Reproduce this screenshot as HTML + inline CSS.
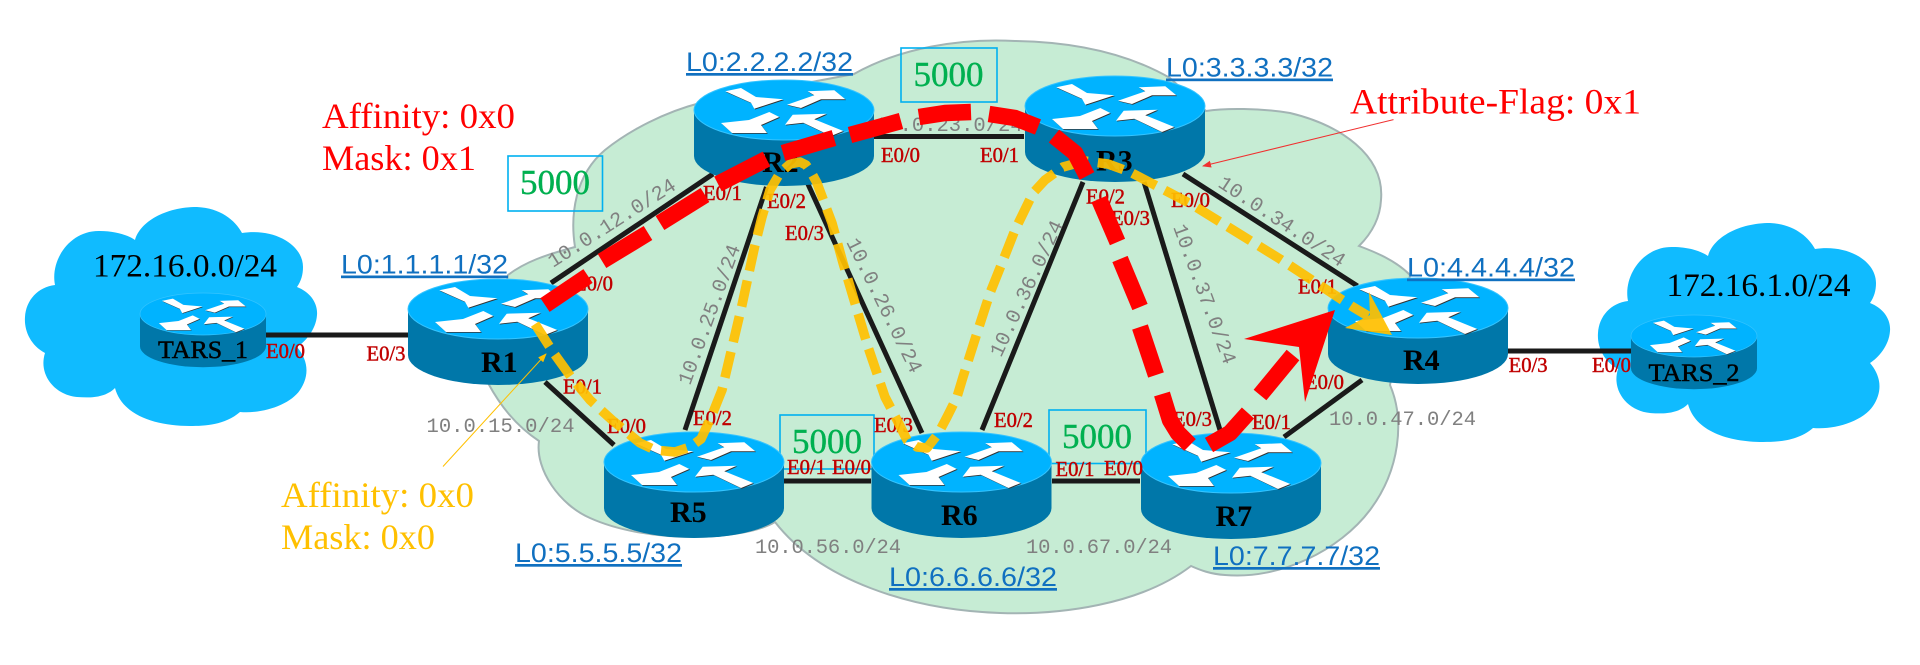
<!DOCTYPE html>
<html><head><meta charset="utf-8"><style>
html,body{margin:0;padding:0;background:#fff}
svg{display:block}
.e{font:21px "Liberation Serif",serif;fill:#C00000;stroke:#C00000;stroke-width:.45px}
.n{font:20.5px "Liberation Mono",monospace;fill:#808080}
.l{font:27px "Liberation Sans",sans-serif;fill:#1070C0}
.s{font:36px "Liberation Serif",serif}
.g{font:35px "Liberation Serif",serif;fill:#00B050;stroke:#00B050;stroke-width:.4px}
.r{font:bold 30px "Liberation Serif",serif;fill:#000}
.t{font:25px "Liberation Serif",serif;fill:#000;stroke:#000;stroke-width:.5px}
.k{font:33px "Liberation Serif",serif;fill:#000}
</style></head><body>
<svg width="1920" height="665" viewBox="0 0 1920 665" xmlns="http://www.w3.org/2000/svg">
<defs>
<path id="cl" fill="#10BBFF" d="M135 240 C140 222 165 207 197 207 C220 208 235 220 242 233 C275 228 303 245 303 267 C303 275 301 281 297 287 C310 292 318 303 317 315 C316 330 305 342 297 347 C308 360 310 375 300 390 C290 405 262 414 240 412 C225 425 205 426 190 426 C155 426 122 415 115 388 C105 398 90 398 77 397 C55 395 38 375 45 353 C30 345 24 330 25 317 C26 300 38 287 55 285 C50 260 70 230 100 231 C115 231 128 235 135 240 Z"/>
<g id="ar">
<polygon points="-58.7,-18.7 -43,-22 -28,-13 -0.7,-10.7 -29.7,-1.3 -33,-7.3"/>
<polygon points="3,-5.3 30.3,-14.7 23.7,-18.7 50.3,-19.7 61.3,-10.7 37,-10.7 17,-2"/>
<polygon points="-63,13 -35,10 -14.7,2 -4.7,7 -23,15 -17,23 -52,23"/>
<polygon points="1,14.7 8.7,4.7 42.7,3.7 30.3,9.3 59.3,21 47,26 19.3,12.7"/>
</g>
<g id="rt">
<path d="M-90,0 L-90,46 A90,30 0 0 0 90,46 L90,0 Z" fill="#0077A9"/>
<ellipse cx="0" cy="0" rx="90" ry="30" fill="#00B3FF" stroke="#35C4FF" stroke-width="1"/>
<use href="#ar" x=".8" y=".8" fill="#333"/>
<use href="#ar" fill="#fff"/>
</g>
<marker id="ma" markerWidth="9" markerHeight="7" refX="8" refY="3.5" orient="auto" markerUnits="userSpaceOnUse"><polygon points="0,0 9,3.5 0,7" fill="#FFC000"/></marker>
<marker id="mr" markerWidth="9" markerHeight="7" refX="8" refY="3.5" orient="auto" markerUnits="userSpaceOnUse"><polygon points="0,0 9,3.5 0,7" fill="#F03030"/></marker>
</defs>

<use href="#cl"/>
<use href="#cl" transform="translate(1573,16)"/>

<path d="M508 275 C525 262 545 255 575 247 C570 215 575 175 605 150 C630 130 665 112 700 103 L854 74 C900 48 960 38 1015 41 C1080 42 1130 55 1170 78 L1206 111 C1225 108 1260 108 1290 113 C1340 125 1385 155 1381 200 C1380 220 1370 235 1359 246 C1375 252 1395 260 1410 275 L1390 385 C1405 420 1400 470 1370 510 C1340 550 1280 580 1225 575 C1210 574 1200 570 1191 566 C1140 605 1060 615 1000 613 C910 610 820 580 775 522 C745 540 650 545 590 518 C560 505 535 470 539 441 C515 425 500 405 488 383 Z" fill="#C6ECD4" stroke="#A3B4B4" stroke-width="2"/>

<g fill="none" stroke="#00B0F0" stroke-width="1.6">
<rect x="508" y="156" width="94.5" height="55"/>
<rect x="901" y="48" width="96" height="54"/>
<rect x="780" y="415" width="94" height="54"/>
<rect x="1049" y="410" width="97" height="53.5"/>
</g>

<g stroke="#1A1A1A" stroke-width="5" fill="none">
<path d="M265 335H408"/>
<path d="M551 283L713 174"/>
<path d="M545 382L614 445"/>
<path d="M766.5 187L685 430"/>
<path d="M807 182L922 433"/>
<path d="M874 136.5H1024"/>
<path d="M1083 182L982 430"/>
<path d="M1144 182L1220 430"/>
<path d="M1183 174L1357.5 286"/>
<path d="M784 481H871"/>
<path d="M1052 481H1140"/>
<path d="M1284 437L1362 380"/>
<path d="M1508 351H1631"/>
</g>

<text class="n" x="875" y="131">10.0.23.0/24</text>
<text class="n" x="426.5" y="432" textLength="148">10.0.15.0/24</text>
<text class="n" x="755" y="553" textLength="146">10.0.56.0/24</text>
<text class="n" x="1026" y="553" textLength="146">10.0.67.0/24</text>
<text class="n" x="1329" y="425" textLength="147">10.0.47.0/24</text>
<text class="n" transform="translate(553,268) rotate(-32.6)">10.0.12.0/24</text>
<text class="n" transform="translate(690,386) rotate(-70)">10.0.25.0/24</text>
<text class="n" transform="translate(846,242) rotate(63.8)">10.0.26.0/24</text>
<text class="n" transform="translate(1001,358) rotate(-65)">10.0.36.0/24</text>
<text class="n" transform="translate(1173,227) rotate(69.7)">10.0.37.0/24</text>
<text class="n" transform="translate(1217,186) rotate(33.5)">10.0.34.0/24</text>

<use href="#rt" transform="translate(203,314) scale(.7)"/>
<use href="#rt" transform="translate(1694,336) scale(.7)"/>
<use href="#rt" x="498" y="309"/>
<use href="#rt" x="784" y="110"/>
<use href="#rt" x="1115" y="106"/>
<use href="#rt" x="694" y="462"/>
<use href="#rt" x="961.5" y="462"/>
<use href="#rt" x="1231" y="463"/>
<use href="#rt" x="1418" y="308"/>

<text class="r" x="481" y="372">R1</text>
<text class="r" x="762" y="172">R2</text>
<text class="r" x="1096" y="170.5">R3</text>
<text class="r" x="1403" y="370">R4</text>
<text class="r" x="670" y="522">R5</text>
<text class="r" x="941" y="525">R6</text>
<text class="r" x="1215.5" y="526">R7</text>
<text class="t" x="158" y="358" textLength="90" lengthAdjust="spacingAndGlyphs">TARS_1</text>
<text class="t" x="1648.5" y="381" textLength="91" lengthAdjust="spacingAndGlyphs">TARS_2</text>

<g>
<text class="e" x="266" y="358" textLength="39" lengthAdjust="spacingAndGlyphs">E0/0</text>
<text class="e" x="366.5" y="360.5" textLength="39" lengthAdjust="spacingAndGlyphs">E0/3</text>
<text class="e" x="574" y="290.5" textLength="39" lengthAdjust="spacingAndGlyphs">E0/0</text>
<text class="e" x="563" y="393.5" textLength="39" lengthAdjust="spacingAndGlyphs">E0/1</text>
<text class="e" x="607" y="433" textLength="39" lengthAdjust="spacingAndGlyphs">E0/0</text>
<text class="e" x="693" y="425" textLength="39" lengthAdjust="spacingAndGlyphs">E0/2</text>
<text class="e" x="703" y="200" textLength="39" lengthAdjust="spacingAndGlyphs">E0/1</text>
<text class="e" x="767" y="208" textLength="39" lengthAdjust="spacingAndGlyphs">E0/2</text>
<text class="e" x="785" y="240" textLength="39" lengthAdjust="spacingAndGlyphs">E0/3</text>
<text class="e" x="881" y="162" textLength="39" lengthAdjust="spacingAndGlyphs">E0/0</text>
<text class="e" x="980" y="162" textLength="39" lengthAdjust="spacingAndGlyphs">E0/1</text>
<text class="e" x="1086" y="203.5" textLength="39" lengthAdjust="spacingAndGlyphs">E0/2</text>
<text class="e" x="1111" y="225" textLength="39" lengthAdjust="spacingAndGlyphs">E0/3</text>
<text class="e" x="1171" y="207" textLength="39" lengthAdjust="spacingAndGlyphs">E0/0</text>
<text class="e" x="1298" y="293.5" textLength="39" lengthAdjust="spacingAndGlyphs">E0/1</text>
<text class="e" x="1305" y="389" textLength="39" lengthAdjust="spacingAndGlyphs">E0/0</text>
<text class="e" x="1173" y="426" textLength="39" lengthAdjust="spacingAndGlyphs">E0/3</text>
<text class="e" x="1252" y="429" textLength="39" lengthAdjust="spacingAndGlyphs">E0/1</text>
<text class="e" x="787" y="474" textLength="39" lengthAdjust="spacingAndGlyphs">E0/1</text>
<text class="e" x="832" y="474" textLength="39" lengthAdjust="spacingAndGlyphs">E0/0</text>
<text class="e" x="874" y="432" textLength="39" lengthAdjust="spacingAndGlyphs">E0/3</text>
<text class="e" x="994" y="427" textLength="39" lengthAdjust="spacingAndGlyphs">E0/2</text>
<text class="e" x="1055.5" y="476" textLength="39" lengthAdjust="spacingAndGlyphs">E0/1</text>
<text class="e" x="1104" y="475" textLength="39" lengthAdjust="spacingAndGlyphs">E0/0</text>
<text class="e" x="1508.6" y="372" textLength="39" lengthAdjust="spacingAndGlyphs">E0/3</text>
<text class="e" x="1592" y="372" textLength="39" lengthAdjust="spacingAndGlyphs">E0/0</text>
</g>

<g>
<text class="l" x="341" y="273.5" textLength="167" lengthAdjust="spacingAndGlyphs" text-decoration="underline">L0:1.1.1.1/32</text>
<text class="l" x="686" y="71" textLength="167" lengthAdjust="spacingAndGlyphs" text-decoration="underline">L0:2.2.2.2/32</text>
<text class="l" x="1166" y="76.5" textLength="167" lengthAdjust="spacingAndGlyphs" text-decoration="underline">L0:3.3.3.3/32</text>
<text class="l" x="1407" y="276.5" textLength="168" lengthAdjust="spacingAndGlyphs" text-decoration="underline">L0:4.4.4.4/32</text>
<text class="l" x="515" y="562" textLength="167" lengthAdjust="spacingAndGlyphs" text-decoration="underline">L0:5.5.5.5/32</text>
<text class="l" x="889" y="586" textLength="168" lengthAdjust="spacingAndGlyphs" text-decoration="underline">L0:6.6.6.6/32</text>
<text class="l" x="1213" y="565" textLength="167" lengthAdjust="spacingAndGlyphs" text-decoration="underline">L0:7.7.7.7/32</text>
</g>

<text class="g" x="520" y="194" textLength="70" lengthAdjust="spacingAndGlyphs">5000</text>
<text class="g" x="913.5" y="86" textLength="70" lengthAdjust="spacingAndGlyphs">5000</text>
<text class="g" x="792" y="453" textLength="70" lengthAdjust="spacingAndGlyphs">5000</text>
<text class="g" x="1062" y="448" textLength="70" lengthAdjust="spacingAndGlyphs">5000</text>

<text class="s" fill="#FF0000" x="322" y="128" textLength="193" lengthAdjust="spacingAndGlyphs">Affinity: 0x0</text>
<text class="s" fill="#FF0000" x="322" y="170" textLength="154" lengthAdjust="spacingAndGlyphs">Mask: 0x1</text>
<text class="s" fill="#FFC000" x="281" y="507" textLength="193" lengthAdjust="spacingAndGlyphs">Affinity: 0x0</text>
<text class="s" fill="#FFC000" x="281" y="549" textLength="154" lengthAdjust="spacingAndGlyphs">Mask: 0x0</text>
<text class="s" fill="#FF0000" x="1350" y="113.6" textLength="291" lengthAdjust="spacingAndGlyphs">Attribute-Flag: 0x1</text>
<text class="k" x="93" y="276.5" textLength="184" lengthAdjust="spacingAndGlyphs">172.16.0.0/24</text>
<text class="k" x="1666.5" y="296" textLength="184" lengthAdjust="spacingAndGlyphs">172.16.1.0/24</text>

<line x1="1393.5" y1="119.6" x2="1203" y2="166" stroke="#F03030" stroke-width="1" marker-end="url(#mr)"/>
<line x1="443" y1="466.5" x2="546" y2="354" stroke="#FFC000" stroke-width="1" marker-end="url(#ma)"/>

<g opacity=".92">
<polyline fill="none" stroke="#FFC000" stroke-width="9.5" stroke-dasharray="26.5 10" stroke-linejoin="round" points="535,324 553,352 571,377 590,400 612,420 640,443 655,450 675,452 690,447 701,439 712,415 722,390 742,305 755,245 762,217 770,190 780,173 790,164 800,162 806,165 811,172 817,183 832,223 843,263 857,310 868,347 885,397 897,420 907,440 917,447 927,448 938,434 947,417 957,397 963,377 977,333 990,293 1002,263 1015,230 1033,193 1045,180 1063,167 1085,161 1108,164 1130,172 1191,204 1280,259 1353,307 1368,316"/>
<polygon points="1392,335 1369,292 1370,315 1345,328" fill="#FFC000"/>
</g>

<g fill="none" stroke="#FF0000" stroke-width="16.5" stroke-linejoin="round">
<polyline points="545,305 588,276"/>
<polyline points="602,261 648,233"/>
<polyline points="660,223 705,195"/>
<polyline points="718,184 766.5,159"/>
<polyline points="783,153 834,138"/>
<polyline points="850,135 901,121"/>
<polyline points="919,117 945,113 971,112"/>
<polyline points="989,114 1015,118 1038,127"/>
<polyline points="1054,136 1075,153 1087,176"/>
<polyline points="1099,199 1117.5,242"/>
<polyline points="1120,259 1140,307"/>
<polyline points="1140,327 1156,375"/>
<polyline points="1162,394 1170,420 1178,433 1190,445"/>
<polyline points="1209,445 1230,433 1248,413"/>
<polyline points="1260,395 1293,355"/>
</g>
<polygon points="1335,310 1244,339 1299,347 1305,402" fill="#FF0000"/>
</svg>
</body></html>
